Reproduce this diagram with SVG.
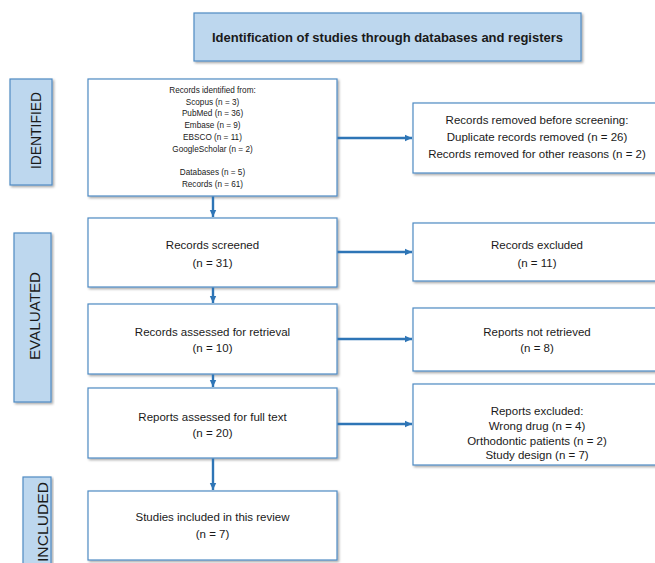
<svg xmlns="http://www.w3.org/2000/svg" width="655" height="563" viewBox="0 0 655 563">
<defs>
<filter id="sh" x="-5%" y="-5%" width="115%" height="115%">
<feDropShadow dx="1.5" dy="1.5" stdDeviation="0.8" flood-color="#000" flood-opacity="0.35"/>
</filter>
<marker id="ah" markerUnits="userSpaceOnUse" markerWidth="8" markerHeight="8" refX="7" refY="4" orient="auto">
<path d="M0,0.8 L7,4 L0,7.2 Z" fill="#2E75B6"/>
</marker>
</defs>
<style>
.box{fill:#fff;stroke:#4F8BC4;stroke-width:1.2;filter:url(#sh)}
.lab{fill:#BDD7EE;stroke:#4F8BC4;stroke-width:1.2;filter:url(#sh)}
.t{font-family:"Liberation Sans",Arial,sans-serif;font-size:11.5px;fill:#1a1a1a;text-anchor:middle}
.s{font-family:"Liberation Sans",Arial,sans-serif;font-size:8.2px;fill:#1a1a1a;text-anchor:middle}
.v{font-family:"Liberation Sans",Arial,sans-serif;font-size:15.5px;fill:#1a1a1a;text-anchor:middle}
.title{font-family:"Liberation Sans",Arial,sans-serif;font-size:13px;font-weight:bold;fill:#1a1a1a;text-anchor:middle}
.c{stroke:#2E75B6;stroke-width:2.4;fill:none;marker-end:url(#ah)}
</style>
<g id="title">
<rect class="lab" x="194" y="13" width="387" height="48"/>
<text class="title" x="387.5" y="42">Identification of studies through databases and registers</text>
</g>
<g id="label-identified">
<rect class="lab" x="10" y="79" width="42" height="106"/>
<text class="v" transform="translate(41,130.5) rotate(-90)" textLength="77" lengthAdjust="spacingAndGlyphs">IDENTIFIED</text>
</g>
<g id="label-evaluated">
<rect class="lab" x="14" y="233" width="37" height="169"/>
<text class="v" transform="translate(39.5,316) rotate(-90)" textLength="88" lengthAdjust="spacingAndGlyphs">EVALUATED</text>
</g>
<g id="label-included">
<rect class="lab" x="23" y="477" width="28" height="95"/>
<text class="v" transform="translate(47.5,522) rotate(-90)" textLength="80" lengthAdjust="spacingAndGlyphs">INCLUDED</text>
</g>
<g id="records-identified">
<rect class="box" x="88" y="79" width="249" height="117"/>
<text class="s" x="212.5" y="93">Records identified from:</text>
<text class="s" x="212.5" y="104.7">Scopus (n = 3)</text>
<text class="s" x="212.5" y="116.4">PubMed (n = 36)</text>
<text class="s" x="212.5" y="128.1">Embase (n = 9)</text>
<text class="s" x="212.5" y="139.8">EBSCO (n = 11)</text>
<text class="s" x="212.5" y="151.5">GoogleScholar (n = 2)</text>
<text class="s" x="212.5" y="174.9">Databases (n = 5)</text>
<text class="s" x="212.5" y="186.6">Records (n = 61)</text>
</g>
<g id="records-removed">
<rect class="box" x="413" y="103" width="250" height="70"/>
<text class="t" x="537" y="124">Records removed before screening:</text>
<text class="t" x="537" y="141">Duplicate records removed (n = 26)</text>
<text class="t" x="537" y="158">Records removed for other reasons (n = 2)</text>
</g>
<g id="records-screened">
<rect class="box" x="88" y="218" width="249" height="69"/>
<text class="t" x="212.5" y="249">Records screened</text>
<text class="t" x="212.5" y="267">(n = 31)</text>
</g>
<g id="records-excluded">
<rect class="box" x="413" y="223" width="250" height="58"/>
<text class="t" x="537" y="249">Records excluded</text>
<text class="t" x="537" y="267">(n = 11)</text>
</g>
<g id="records-retrieval">
<rect class="box" x="88" y="304" width="249" height="70"/>
<text class="t" x="212.5" y="336">Records assessed for retrieval</text>
<text class="t" x="212.5" y="352">(n = 10)</text>
</g>
<g id="reports-not-retrieved">
<rect class="box" x="413" y="308" width="250" height="63"/>
<text class="t" x="537" y="336">Reports not retrieved</text>
<text class="t" x="537" y="352">(n = 8)</text>
</g>
<g id="reports-full-text">
<rect class="box" x="88" y="388" width="249" height="70"/>
<text class="t" x="212.5" y="421">Reports assessed for full text</text>
<text class="t" x="212.5" y="437">(n = 20)</text>
</g>
<g id="reports-excluded">
<rect class="box" x="413" y="384" width="250" height="81"/>
<text class="t" x="537" y="415">Reports excluded:</text>
<text class="t" x="537" y="430">Wrong drug (n = 4)</text>
<text class="t" x="537" y="444.5">Orthodontic patients (n = 2)</text>
<text class="t" x="537" y="459">Study design (n = 7)</text>
</g>
<g id="studies-included">
<rect class="box" x="88" y="491" width="249" height="69"/>
<text class="t" x="212.5" y="521">Studies included in this review</text>
<text class="t" x="212.5" y="538">(n = 7)</text>
</g>
<g id="connectors">
<line class="c" x1="337.5" y1="138" x2="412" y2="138"/>
<line class="c" x1="337.5" y1="252" x2="412" y2="252"/>
<line class="c" x1="337.5" y1="339" x2="412" y2="339"/>
<line class="c" x1="337.5" y1="424" x2="412" y2="424"/>
<line class="c" x1="213" y1="196.5" x2="213" y2="217"/>
<line class="c" x1="213" y1="287.5" x2="213" y2="303"/>
<line class="c" x1="213" y1="374.5" x2="213" y2="387"/>
<line class="c" x1="213" y1="458.5" x2="213" y2="490"/>
</g>
</svg>
